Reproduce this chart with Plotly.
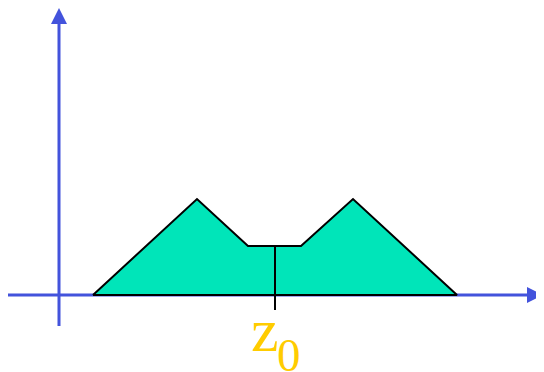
import plotly.graph_objects as go

# Data (units: horizontal position z, vertical amplitude)
shape_z = [3.4, 13.8, 18.9, 24.2, 29.4, 39.8]
shape_v = [0.0, 9.6, 4.9, 4.9, 9.6, 0.0]
z0 = 21.6
z0_label = "z"
z0_sub = "0"

# axis extents
x_axis_min, x_axis_max = -5.2, 48.4
y_axis_min, y_axis_max = -3.1, 28.7
tick_bottom = -1.5

BLUE = "#4353DC"
GREEN = "#00E5B9"
GOLD = "#FFCC00"

fig = go.Figure()

# horizontal axis
fig.add_trace(go.Scatter(x=[x_axis_min, x_axis_max - 1.5], y=[0, 0], mode="lines",
                         line=dict(color=BLUE, width=3), hoverinfo="skip", cliponaxis=False))
fig.add_trace(go.Scatter(x=[x_axis_max], y=[0], mode="markers", cliponaxis=False,
                         marker=dict(symbol="arrow-right", size=16, color=BLUE, line=dict(width=0)),
                         hoverinfo="skip"))
# vertical axis
fig.add_trace(go.Scatter(x=[0, 0], y=[y_axis_min, y_axis_max - 1.5], mode="lines",
                         line=dict(color=BLUE, width=3), hoverinfo="skip", cliponaxis=False))
fig.add_trace(go.Scatter(x=[0], y=[y_axis_max], mode="markers", cliponaxis=False,
                         marker=dict(symbol="arrow-up", size=16, color=BLUE, line=dict(width=0)),
                         hoverinfo="skip"))

# filled shape
fig.add_trace(go.Scatter(x=shape_z + [shape_z[0]], y=shape_v + [shape_v[0]], mode="lines",
                         fill="toself", fillcolor=GREEN,
                         line=dict(color="black", width=2), hoverinfo="skip"))

# z0 marker line
fig.add_trace(go.Scatter(x=[z0, z0], y=[shape_v[2], tick_bottom], mode="lines",
                         line=dict(color="black", width=2), hoverinfo="skip"))

fig.add_annotation(x=z0, y=0, text=z0_label, showarrow=False, xanchor="center", yanchor="bottom",
                   xshift=-10, yshift=-71, font=dict(family="Liberation Serif", size=62, color=GOLD))
fig.add_annotation(x=z0, y=0, text=z0_sub, showarrow=False, xanchor="center", yanchor="top",
                   xshift=14, yshift=-32, font=dict(family="Liberation Serif", size=47, color=GOLD))

# page has an 8px body margin: figure shrunk and ranges offset to match the reference frame
fig.update_layout(
    width=536, height=364,
    margin=dict(l=0, r=0, t=0, b=0),
    paper_bgcolor="white", plot_bgcolor="white",
    showlegend=False,
    xaxis=dict(range=[-5.1, 48.5], visible=False, fixedrange=True),
    yaxis=dict(range=[-7.7, 28.7], visible=False, fixedrange=True),
)

fig.write_html("out.html")
